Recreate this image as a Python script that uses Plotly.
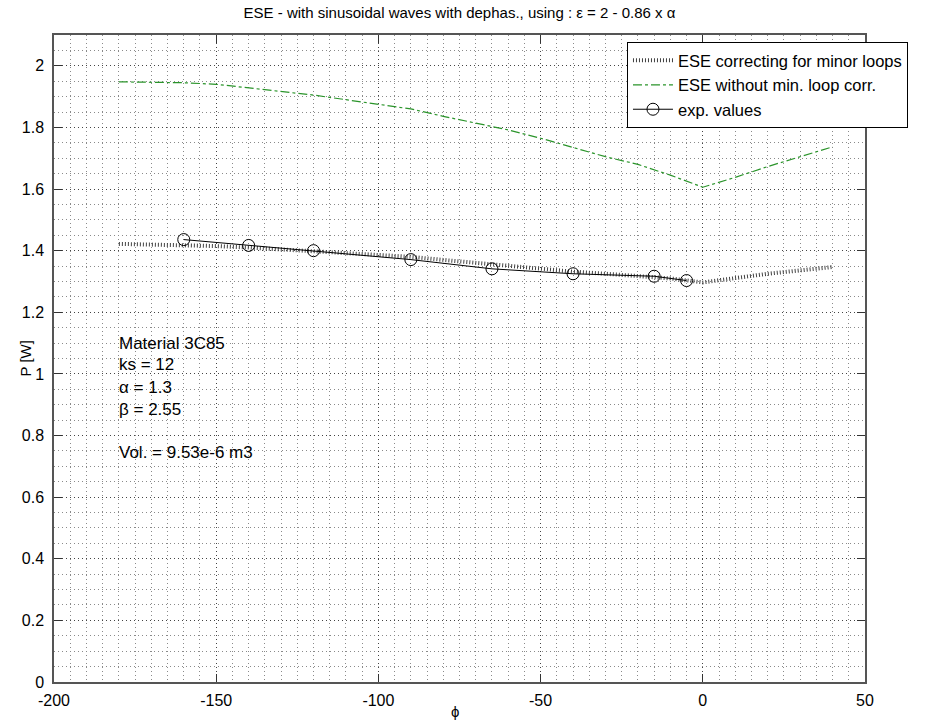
import plotly.graph_objects as go

# ---- data ----
phi_model = [-180, -170, -160, -150, -140, -130, -120, -110, -100, -90, -80, -70,
             -60, -50, -40, -30, -20, -10, 0, 10, 20, 30, 40]
p_corr = [1.422, 1.420, 1.418, 1.415, 1.410, 1.404, 1.398, 1.392, 1.387, 1.380, 1.370, 1.360,
          1.350, 1.340, 1.332, 1.325, 1.318, 1.310, 1.297, 1.312, 1.325, 1.336, 1.347]
p_nocorr = [1.948, 1.947, 1.945, 1.940, 1.928, 1.917, 1.905, 1.890, 1.876, 1.860, 1.836, 1.815,
            1.792, 1.765, 1.735, 1.705, 1.680, 1.645, 1.606, 1.638, 1.673, 1.705, 1.737]
phi_exp = [-160, -140, -120, -90, -65, -40, -15, -5]
p_exp = [1.436, 1.417, 1.400, 1.371, 1.341, 1.325, 1.317, 1.303]

x_tickvals = [-200, -150, -100, -50, 0, 50]
x_ticktext = ["-200", "-150", "-100", "-50", "0", "50"]
y_tickvals = [0, 0.2, 0.4, 0.6, 0.8, 1, 1.2, 1.4, 1.6, 1.8, 2]
y_ticktext = ["0", "0.2", "0.4", "0.6", "0.8", "1", "1.2", "1.4", "1.6", "1.8", "2"]

names = ["ESE correcting for minor loops", "ESE without min. loop corr.", "exp. values"]
title_text = "ESE - with sinusoidal waves with dephas., using : \u03b5 = 2 - 0.86 x \u03b1"
info_lines = ["Material 3C85", "ks = 12", "\u03b1 = 1.3", "\u03b2 = 2.55", "Vol. = 9.53e-6 m3"]
info_y = [1.100, 1.031, 0.956, 0.885, 0.746]

FONT = "Liberation Sans, Arial, sans-serif"

fig = go.Figure()
fig.add_trace(go.Scatter(x=phi_model, y=p_corr, mode="lines", name=names[0],
                         line=dict(color="#404040", width=4, dash="1px,2px")))
fig.add_trace(go.Scatter(x=phi_model, y=p_nocorr, mode="lines", name=names[1],
                         line=dict(color="#2a942a", width=1.2, dash="dashdot")))
fig.add_trace(go.Scatter(x=phi_exp, y=p_exp, mode="lines+markers", name=names[2],
                         line=dict(color="black", width=1),
                         marker=dict(symbol="circle-open", size=12, color="black",
                                     line=dict(width=1, color="black"))))

for t, yy in zip(info_lines, info_y):
    fig.add_annotation(x=-180.5, y=yy, xref="x", yref="y", text=t, showarrow=False,
                       xanchor="left", yanchor="middle",
                       font=dict(family=FONT, size=17, color="black"))

# axis titles placed as annotations
fig.add_annotation(x=-29 / 811, y=0.5, xref="paper", yref="paper", text="P [W]",
                   showarrow=False, textangle=-90, xanchor="center", yanchor="middle",
                   font=dict(family=FONT, size=15, color="black"))
fig.add_annotation(x=0.495, y=-30 / 647, xref="paper", yref="paper", text="\u03d5",
                   showarrow=False, xanchor="center", yanchor="middle",
                   font=dict(family=FONT, size=15, color="black"))

major_col = "#444444"
minor_col = "#8a8a8a"
axis_common = dict(showline=True, linecolor="#555555", linewidth=1.5, mirror="ticks",
                   ticks="inside", ticklen=8, tickcolor="#333333", tickwidth=1,
                   showgrid=True, gridcolor=major_col, griddash="1px,3px", gridwidth=1,
                   zeroline=False, tickfont=dict(family=FONT, size=16, color="black"))

fig.update_xaxes(range=[-200, 50], tickmode="array", tickvals=x_tickvals, ticktext=x_ticktext,
                 ticklabelstandoff=3,
                 minor=dict(dtick=5, tick0=0, showgrid=True, gridcolor=minor_col,
                            griddash="1px,3px", gridwidth=1, ticks=""),
                 **axis_common)
fig.update_yaxes(range=[0, 2.1], tickmode="array", tickvals=y_tickvals, ticktext=y_ticktext,
                 ticklabelstandoff=5,
                 minor=dict(dtick=0.05, tick0=0, showgrid=True, gridcolor=minor_col,
                            griddash="1px,3px", gridwidth=1, ticks=""),
                 **axis_common)

fig.update_layout(
    width=947, height=722,
    margin=dict(l=54, r=82, t=35, b=40, autoexpand=False),
    paper_bgcolor="white", plot_bgcolor="white",
    title=dict(text=title_text, x=0.5, xref="paper", xanchor="center",
               y=1 - 13 / 722, yanchor="middle",
               font=dict(family=FONT, size=15, color="black")),
    legend=dict(x=0.7065, y=0.989, xanchor="left", yanchor="top",
                bgcolor="white", bordercolor="black", borderwidth=1,
                font=dict(family=FONT, size=16.5, color="black"),
                tracegroupgap=0, itemwidth=40),
    showlegend=True,
)

fig.write_html("out.html")
